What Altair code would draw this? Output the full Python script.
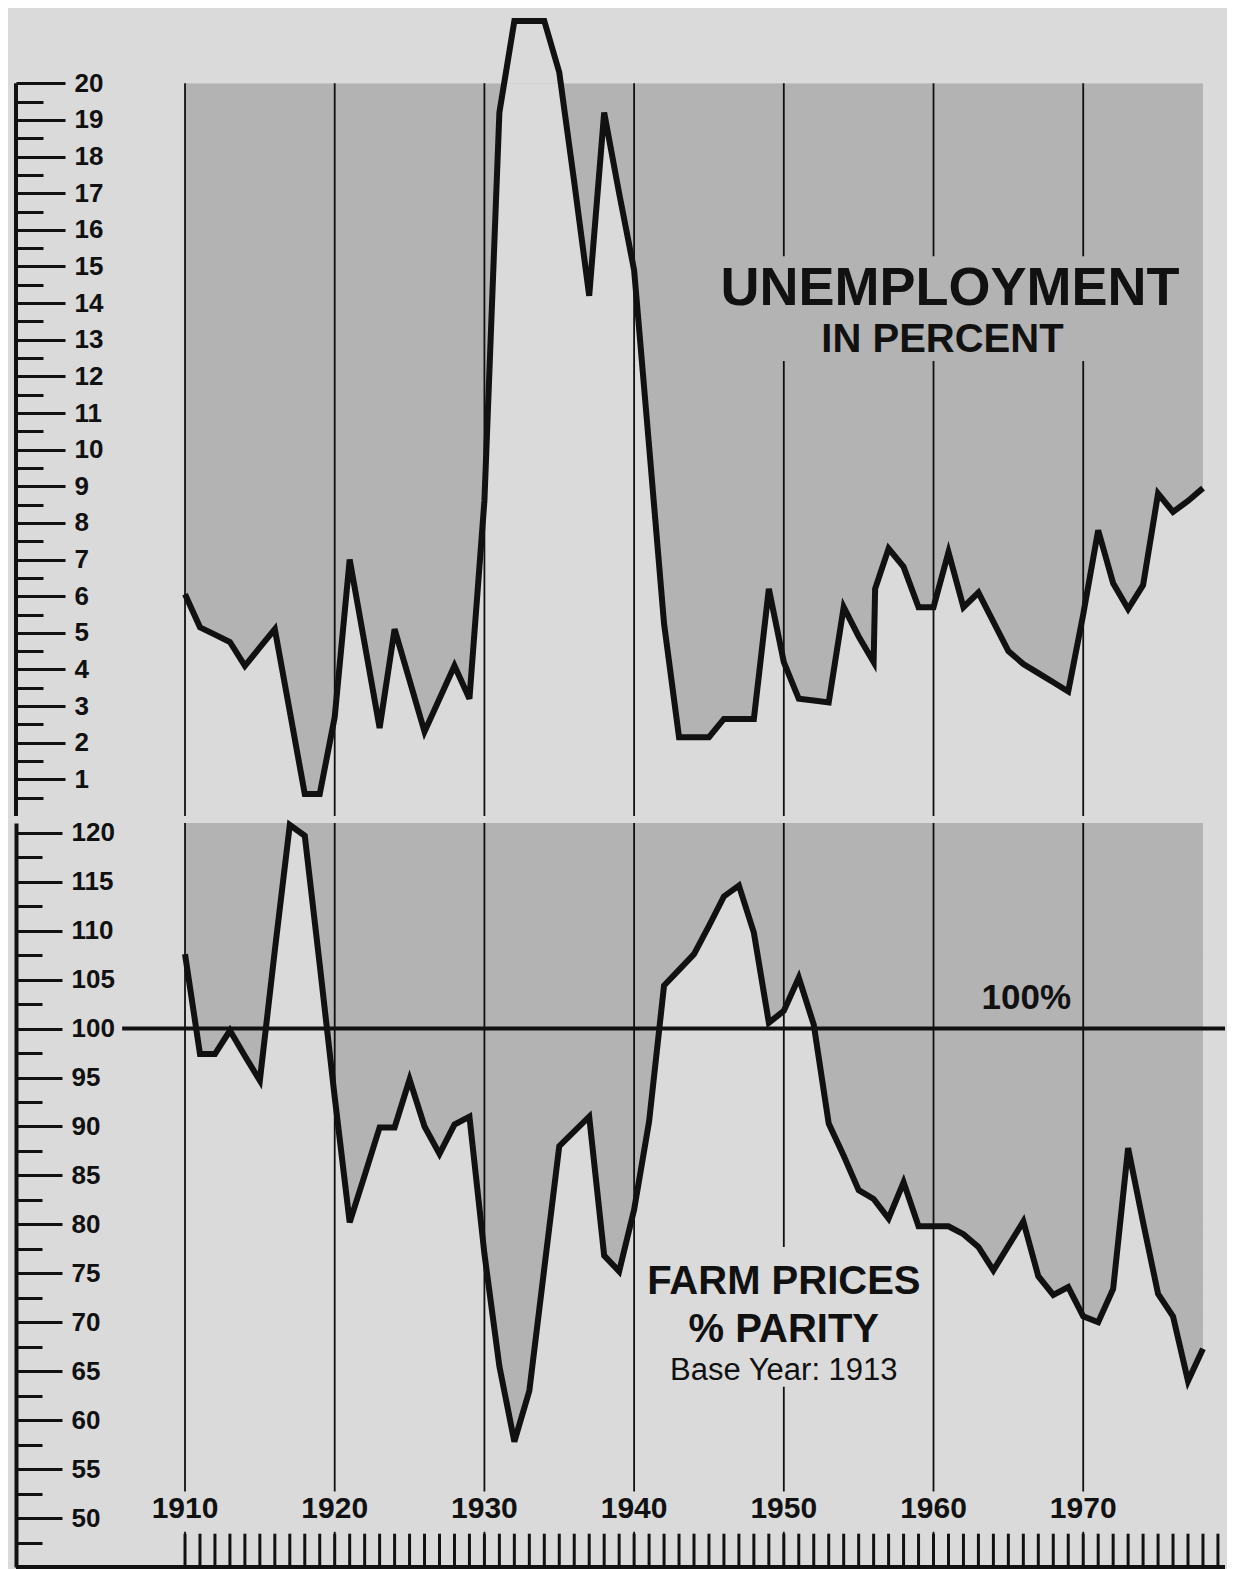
import altair as alt
import pandas as pd

# ---------------- data ----------------
years_u = [1910, 1911, 1912, 1913, 1914, 1915, 1916, 1917, 1918, 1919,
           1920, 1921, 1922, 1923, 1924, 1925, 1926, 1927, 1928, 1929,
           1930, 1931, 1932, 1933, 1934, 1935, 1936, 1937, 1938, 1939,
           1940, 1941, 1942, 1943, 1944, 1945, 1946, 1947, 1948, 1949,
           1950, 1951, 1952, 1953, 1954, 1955, 1956, 1956.1, 1957, 1958, 1959,
           1960, 1961, 1962, 1963, 1964, 1965, 1966, 1967, 1968, 1969,
           1970, 1971, 1972, 1973, 1974, 1975, 1976, 1977, 1978]
unemployment = [6.05, 5.15, 4.95, 4.75, 4.1, 4.6, 5.1, 2.85, 0.6, 0.6,
                2.7, 7.0, 4.7, 2.4, 5.1, 3.7, 2.3, 3.2, 4.1, 3.2,
                8.6, 19.2, 21.7, 21.7, 21.7, 20.3, 17.3, 14.2, 19.2, 17.0,
                14.9, 10.1, 5.25, 2.15, 2.15, 2.15, 2.65, 2.65, 2.65, 6.2,
                4.2, 3.2, 3.15, 3.1, 5.7, 4.9, 4.2, 6.2, 7.3, 6.8, 5.7,
                5.7, 7.2, 5.7, 6.1, 5.3, 4.5, 4.15, 3.9, 3.65, 3.4,
                5.5, 7.8, 6.35, 5.65, 6.3, 8.8, 8.3, 8.6, 8.95]

years_f = list(range(1910, 1979))
parity = [107.6, 97.4, 97.4, 99.8, 97.2, 94.7, 108.0, 120.8, 119.7, 106.5,
          93.0, 80.2, 85.0, 89.9, 89.9, 94.8, 90.0, 87.2, 90.2, 91.0,
          77.0, 65.5, 57.8, 63.0, 75.5, 88.0, 89.5, 91.0, 76.8, 75.2,
          81.5, 90.5, 104.4, 106.0, 107.6, 110.5, 113.5, 114.6, 109.8, 100.6,
          101.8, 105.2, 100.4, 90.3, 87.0, 83.5, 82.6, 80.6, 84.3, 79.8,
          79.8, 79.8, 79.0, 77.7, 75.3, 77.8, 80.3, 74.7, 72.8, 73.6,
          70.6, 70.0, 73.4, 87.8, 80.2, 72.9, 70.6, 64.0, 67.3]

decades = [1910, 1920, 1930, 1940, 1950, 1960, 1970]
tick_years = list(range(1910, 1980))
u_major = list(range(1, 21))
u_minor = [0.5 + i for i in range(20)]
f_major = list(range(50, 121, 5))
f_minor = [47.5 + 5 * i for i in range(15)]

# ---------------- styling / layout ----------------
INK = "#111111"
BG = "#dadada"
SHADE = "#b3b3b3"
FONT = "Liberation Sans"

W = 1209
H1 = 806
H2 = 744
X0 = 1898.71
X1 = X0 + W / 14.97

xs = alt.Scale(domain=[X0, X1], nice=False, zero=False)
ys1 = alt.Scale(domain=[0, 22], nice=False, zero=False)
ys2 = alt.Scale(domain=[45, 121], nice=False, zero=False)

df_u = pd.DataFrame({"year": years_u, "u": unemployment})
df_f = pd.DataFrame({"year": years_f, "p": parity})
df_dec = pd.DataFrame({"year": decades})
df_ticks = pd.DataFrame({"year": tick_years})
one = alt.Data(values=[{}])


def major_axis(vals, size, domain=False):
    return alt.Axis(orient="right", offset=-W, values=vals, tickSize=size, tickWidth=3,
                    tickColor=INK, domain=domain, domainWidth=4, domainColor=INK,
                    labels=True, labelFont=FONT,
                    labelFontWeight="bold", labelFontSize=26, labelColor=INK,
                    labelPadding=9, labelBaseline="middle", labelAlign="left",
                    labelFlush=False, labelOverlap=False, format="d", grid=False,
                    title=None, zindex=1)


def minor_axis(vals, size):
    return alt.Axis(orient="right", offset=-W, values=vals, tickSize=size, tickWidth=3,
                    tickColor=INK, domain=False, labels=False, grid=False, title=None,
                    zindex=1)


def label(txt, x, y, ys, size, weight):
    return alt.Chart(one).mark_text(
        text=txt, font=FONT, fontSize=size, fontWeight=weight, fill=INK,
        align="center", baseline="alphabetic").encode(
        x=alt.XDatum(x, type="quantitative", scale=xs, axis=None),
        y=alt.YDatum(y, type="quantitative", scale=ys, axis=None))


def patch(xa, xb, ya, yb, ys, color):
    # plain patch (caption backing / paper above the chart frame)
    return alt.Chart(one).mark_rect(color=color).encode(
        x=alt.XDatum(xa, type="quantitative", scale=xs, axis=None),
        x2=alt.X2Datum(xb),
        y=alt.YDatum(ya, type="quantitative", scale=ys, axis=None),
        y2=alt.Y2Datum(yb))


# ---------------- top panel: unemployment ----------------
x_top_axis = alt.Axis(orient="bottom", domain=True, domainWidth=4, domainColor=INK,
                      ticks=False, labels=False, grid=False, title=None)

area_top = alt.Chart(df_u).mark_area(color=SHADE, opacity=1).encode(
    x=alt.X("year:Q", scale=xs, axis=x_top_axis),
    y=alt.Y("u:Q", scale=ys1, axis=major_axis(u_major, 49)),
    y2=alt.Y2Datum(20))

grid_top = alt.Chart(df_dec).mark_rule(color=INK, strokeWidth=1.8).encode(
    x=alt.X("year:Q", scale=xs, axis=None),
    y=alt.YDatum(0, type="quantitative", scale=ys1, axis=None),
    y2=alt.Y2Datum(20))

axis_line_top = alt.Chart(one).mark_rule(color=INK, strokeWidth=4).encode(
    x=alt.value(0),
    y=alt.YDatum(0, type="quantitative", scale=ys1, axis=None),
    y2=alt.Y2Datum(20))

line_top = alt.Chart(df_u).mark_line(color=INK, strokeWidth=6, clip=False,
                                     strokeJoin="miter").encode(
    x=alt.X("year:Q", scale=xs, axis=None),
    y=alt.Y("u:Q", scale=ys1, axis=minor_axis(u_minor, 27)))

top = alt.layer(
    area_top,
    patch(1909.5, 1978.5, 20, 22, ys1, BG),
    grid_top,
    patch(1945.4, 1976.7, 15.28, 12.42, ys1, SHADE),
    axis_line_top, line_top,
    label("UNEMPLOYMENT", 1961.1, 13.95, ys1, 54, "bold"),
    label("IN PERCENT", 1960.6, 12.66, ys1, 40, "bold"),
).resolve_axis(y="independent").properties(width=W, height=H1)

# ---------------- bottom panel: farm prices ----------------
area_bot = alt.Chart(df_f).mark_area(color=SHADE, opacity=1).encode(
    x=alt.X("year:Q", scale=xs, axis=None),
    y=alt.Y("p:Q", scale=ys2, axis=major_axis(f_major, 46, domain=True)),
    y2=alt.Y2Datum(121))

grid_bot = alt.Chart(df_dec).mark_rule(color=INK, strokeWidth=1.8).encode(
    x=alt.X("year:Q", scale=xs, axis=None),
    y=alt.YDatum(45, type="quantitative", scale=ys2, axis=None),
    y2=alt.Y2Datum(121))

year_backing = alt.Chart(df_dec).transform_calculate(
    a="datum.year - 2.5", b="datum.year + 2.5").mark_rect(color=BG).encode(
    x=alt.X("a:Q", scale=xs, axis=None),
    x2="b:Q",
    y=alt.YDatum(52.7, type="quantitative", scale=ys2, axis=None),
    y2=alt.Y2Datum(48.6))

year_ticks = alt.Chart(df_ticks).mark_rule(color=INK, strokeWidth=3).encode(
    x=alt.X("year:Q", scale=xs, axis=None),
    y=alt.YDatum(45, type="quantitative", scale=ys2, axis=None),
    y2=alt.Y2Datum(48.4))

base_line = alt.Chart(one).mark_rule(color=INK, strokeWidth=4).encode(
    x=alt.XDatum(X0, type="quantitative", scale=xs, axis=None),
    x2=alt.X2Datum(X1),
    y=alt.YDatum(45, type="quantitative", scale=ys2, axis=None))

par_line = alt.Chart(one).mark_rule(color=INK, strokeWidth=4).encode(
    x=alt.XDatum(1905.8, type="quantitative", scale=xs, axis=None),
    x2=alt.X2Datum(X1),
    y=alt.YDatum(100, type="quantitative", scale=ys2, axis=None))

line_bot = alt.Chart(df_f).mark_line(color=INK, strokeWidth=6, clip=False,
                                     strokeJoin="miter").encode(
    x=alt.X("year:Q", scale=xs, axis=None),
    y=alt.Y("p:Q", scale=ys2, axis=minor_axis(f_minor, 26)))

year_text = alt.Chart(df_dec).mark_text(font=FONT, fontSize=30, fontWeight="bold",
                                         align="center", baseline="alphabetic",
                                         fill=INK).encode(
    x=alt.X("year:Q", scale=xs, axis=None),
    y=alt.YDatum(50.0, type="quantitative", scale=ys2, axis=None),
    text=alt.Text("year:Q", format="d"))

bottom = alt.layer(
    area_bot, grid_bot, year_backing,
    patch(1940.4, 1959.6, 77.7, 63.4, ys2, BG),
    year_ticks, base_line, par_line, line_bot, year_text,
    label("100%", 1966.2, 102.0, ys2, 35, "bold"),
    label("FARM PRICES", 1950.0, 72.9, ys2, 40, "bold"),
    label("% PARITY", 1950.0, 68.0, ys2, 40, "bold"),
    label("Base Year: 1913", 1950.0, 64.1, ys2, 31, "normal"),
).resolve_axis(y="independent").properties(width=W, height=H2)

chart = alt.vconcat(top, bottom, spacing=-6).properties(
    padding={"left": 6, "top": 0, "right": 0, "bottom": 0}
).configure(background=BG).configure_view(strokeWidth=0)

chart.save("out.html", embed_options={"renderer": "svg", "actions": False})
